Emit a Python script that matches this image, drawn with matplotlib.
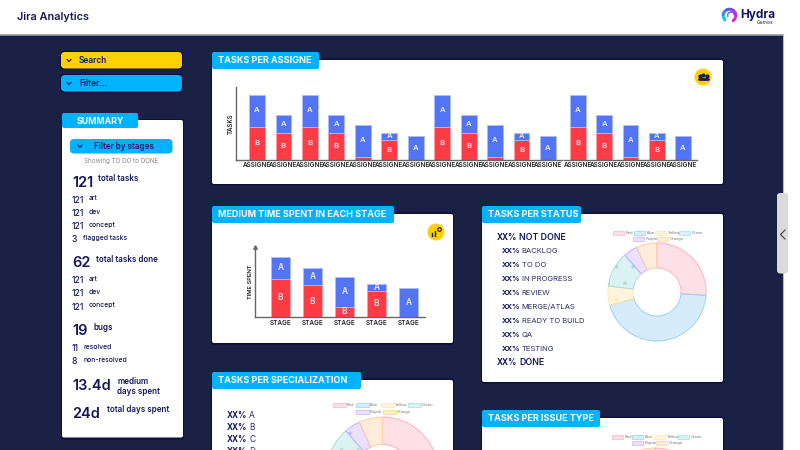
# -*- coding: utf-8 -*-
"""
Jira Analytics dashboard mock: cards are drawn on a full-figure pixel axes,
the charts sit on their own axes on top of it.
"""

import matplotlib
matplotlib.use('Agg')
import matplotlib.pyplot as plt
import matplotlib.patches as mpatches

plt.rcParams['font.family'] = ['Inter', 'DejaVu Sans']
plt.rcParams['hatch.linewidth'] = 0.2

#%% Data
assigne_labels_left = ['ASSIGNE'] * 12
assigne_a_left = [32, 18, 32, 18, 32, 7, 24, 32, 18, 32, 7, 24]
assigne_b_left = [33, 27, 33, 27, 3, 20, 0, 33, 27, 3, 20, 0]
assigne_labels_right = ['ASSIGNE'] * 5
assigne_a_right = [32, 18, 32, 7, 24]
assigne_b_right = [33, 27, 3, 20, 0]

stage_labels = ['STAGE'] * 5
stage_a = [22, 17, 30, 7, 29]
stage_b = [38, 32, 10, 26, 0]

pie_names = ['Red', 'Blue', 'Yellow', 'Green', 'Purple', 'Orange']
pie_values = [94, 160, 23, 42, 16.5, 24.5]
pie_fill = ['#FFE0E6', '#D7ECFB', '#FFF5DD', '#DBF2F2', '#EBE0FF', '#FFECD9']
pie_edge = ['#FFB1C1', '#9AD0F5', '#FFE6AA', '#A5DFDF', '#CCB2FF', '#FFCF9F']
pie_dots = ['', '', '.', '.', '.', '']

status_labels = ['BACKLOG', 'TO DO', 'IN PROGRESS', 'REVIEW', 'MERGE/ATLAS',
                 'READY TO BUILD', 'QA', 'TESTING']
spec_labels = ['A', 'B', 'C', 'D']

#%% Style
navy = '#1A2145'
ink = '#14185A'
sky = '#00B2FF'
gold = '#FFD100'
shadow = '#0C0E3C'
blue = '#5375F5'
red = '#FF3B45'

fig = plt.figure(figsize=(8, 4.5), dpi=100, facecolor='white')
bg = fig.add_axes([0, 0, 1, 1])
bg.set_xlim(0, 800)
bg.set_ylim(450, 0)
bg.axis('off')


def box(x0, y0, x1, y1, fc, ec='none', lw=0, rad=2.0, z=2):
    p = mpatches.FancyBboxPatch((x0 + rad, y0 + rad), x1 - x0 - 2 * rad, y1 - y0 - 2 * rad,
                                boxstyle='round,pad=%g,rounding_size=%g' % (rad, rad),
                                fc=fc, ec=ec, lw=lw, zorder=z)
    bg.add_patch(p)


def txt(x, y, s, size=5.5, weight='normal', color=ink, ha='left', z=6):
    bg.text(x, y, s, fontsize=size, fontweight=weight, color=color, ha=ha, va='center', zorder=z)


def card(x0, y0, x1, y1, tab_x1, title):
    box(x0 - 1, y0 - 1.5, x1 + 1, y1 + 1.5, shadow, z=2)
    box(x0, y0, x1, y1, 'white', z=3)
    box(x0, y0 - 8, tab_x1, y0 + 9, sky, z=4)
    txt(x0 + 6.5, y0 + 0.5, title, size=6.5, weight='bold', color='white')


def chevron(x, y, color=ink, s=2.0):
    bg.plot([x - s, x, x + s], [y - s * 0.55, y + s * 0.55, y - s * 0.55], color=color, lw=0.8, zorder=6)


def inset(x0, y0, x1, y1):
    ax = fig.add_axes([x0 / 800, 1 - y1 / 450, (x1 - x0) / 800, (y1 - y0) / 450])
    ax.patch.set_alpha(0)
    return ax


def stacked(ax, labels, a, b, xlim, ymax, size):
    x = list(range(len(labels)))
    bars_b = ax.bar(x, b, 0.6, color=red, edgecolor='#FF9CA3', lw=0.6)
    bars_a = ax.bar(x, a, 0.6, bottom=b, color=blue, edgecolor='#AEBDFB', lw=0.6)
    ax.bar_label(bars_b, labels=['B' if v > 5 else '' for v in b], label_type='center',
                 color='#FFE4E6', fontsize=size, fontweight='semibold')
    ax.bar_label(bars_a, labels=['A'] * len(a), label_type='center',
                 color='#E8EDFF', fontsize=size, fontweight='semibold')
    ax.set_xticks(x)
    ax.set_xticklabels(labels, fontsize=4.6, fontweight='semibold', color='#222222')
    ax.set_yticks([])
    ax.tick_params(axis='x', length=0, pad=2)
    ax.set_xlim(xlim)
    ax.set_ylim(0, ymax)
    for s in ['top', 'right']:
        ax.spines[s].set_visible(False)
    for s in ['left', 'bottom']:
        ax.spines[s].set_color('#666666')
        ax.spines[s].set_linewidth(1.0)


def donut(cx, cy, r, hole):
    ax = inset(cx - r, cy - r, cx + r, cy + r)
    ax.pie(pie_values, colors=pie_fill, startangle=90, counterclock=False, radius=1,
           wedgeprops=dict(width=1 - hole / r, edgecolor='none'))
    wedges, _ = ax.pie(pie_values, colors=['none'] * 6, startangle=90, counterclock=False, radius=1,
                       wedgeprops=dict(width=1 - hole / r, lw=0.7))
    for w, c, h in zip(wedges, pie_edge, pie_dots):
        w.set_edgecolor(c)
        w.set_hatch(h)
    ax.set_xlim(-1.02, 1.02)
    ax.set_ylim(-1.02, 1.02)


def pie_legend(box_x, y1, y2, box_w):
    # boxes of the two legend rows, text right after each box
    for i, (name, ec, fc) in enumerate(zip(pie_names, pie_edge, pie_fill)):
        y = y1 if i < 4 else y2
        bg.add_patch(mpatches.Rectangle((box_x[i], y - 1.8), box_w, 3.6, fc=fc, ec=ec, lw=0.5, zorder=5))
        txt(box_x[i] + box_w + 1.5, y, name, size=2.9, color='#777777')


def xx_row(x, y, label, gap, size=5.6, weight='medium', color='#2A2F68', xx_size=5.9):
    txt(x, y, 'XX%', size=xx_size, weight='bold')
    txt(x + gap, y, label, size=size, weight=weight, color=color)


#%% Page frame
bg.add_patch(mpatches.Rectangle((0, 35), 783, 415, fc=navy, ec='none', zorder=1))
bg.plot([0, 783], [34.7, 34.7], color='#9C9C9C', lw=1.2, zorder=2)
bg.plot([783.3, 783.3], [35, 450], color='#B8B8B8', lw=0.8, zorder=2)
box(777, 193, 788, 273.5, '#DADADA', rad=3, z=2)
bg.plot([785, 780.5, 785], [230, 234.5, 239], color='#444444', lw=0.8, zorder=3)
txt(17, 16.5, 'Jira Analytics', size=7.9, weight='semibold')

# logo
logo_cols = ['#17C3F2', '#2C8CF2', '#5A55EE', '#8A3CEB', '#B32BE0', '#D42BC8']
for i, c in enumerate(logo_cols):
    bg.add_patch(mpatches.Wedge((729.5, 15.5), 7.8, 125 + i * 50, 175 + i * 50, width=3, fc=c, ec='none', zorder=3))
    bg.add_patch(mpatches.Wedge((731, 15.5), 4.2, 150 + i * 35, 185 + i * 35, width=1.6, fc=c, ec='none', zorder=3))
txt(740.5, 15, 'Hydra', size=8.5, weight='bold')
txt(757, 22.3, 'Games', size=3.6, color='#333366')

#%% Sidebar
box(60, 51, 183, 69.5, shadow, rad=4)
box(61, 52, 182, 68.5, gold, rad=4, z=3)
chevron(69, 60.5)
txt(79, 60.5, 'Search', size=6, weight='semibold')
box(60, 74, 183, 92.5, shadow, rad=4)
box(61, 75, 182, 91.5, sky, rad=4, z=3)
chevron(69, 83.5)
txt(79, 83.5, 'Filter...', size=6, weight='semibold')

box(61, 119, 184, 439.5, shadow)
box(62, 120, 183, 437.5, 'white', z=3)
box(62, 113, 138, 128, sky, z=4)
txt(100, 121, 'SUMMARY', size=6.3, weight='bold', color='white', ha='center')
box(70, 139, 172.5, 153.5, sky, rad=4, z=4)
chevron(80, 146.3)
txt(94, 146.5, 'Filter by stages', size=5.8, weight='semibold')
txt(121.5, 161, 'Showing TO DO to DONE', size=4.5, color='#8A8A8A', ha='center')

big_rows = [(72, 183, '121', 98, 178.5, 'total tasks'),
            (72, 263, '62', 96, 259.5, 'total tasks done'),
            (72, 331, '19', 93, 327, 'bugs'),
            (72, 414, '24d', 107, 410, 'total days spent')]
for nx, ny, num, lx, ly, lab in big_rows:
    txt(nx, ny, num, size=10.5, weight='semibold')
    txt(lx, ly, lab, size=5.8, weight='semibold')
txt(72, 386, '13.4d', size=10.5, weight='semibold')
txt(117, 381, 'medium', size=5.8, weight='semibold')
txt(117, 391, 'days spent', size=5.8, weight='semibold')

small_rows = [(72, 200.5, '121', 89, 198.5, 'art'), (72, 213.5, '121', 89, 211.5, 'dev'),
              (72, 226.5, '121', 89, 224.5, 'concept'), (72, 239.5, '3', 83, 238, 'flagged tasks'),
              (72, 280.5, '121', 89, 279, 'art'), (72, 294, '121', 89, 292, 'dev'),
              (72, 307, '121', 89, 305.5, 'concept'), (72, 348.5, '11', 84, 347, 'resolved'),
              (72, 361.5, '8', 83, 360, 'non-resolved')]
for nx, ny, num, lx, ly, lab in small_rows:
    txt(nx, ny, num, size=6.2, weight='medium')
    txt(lx, ly, lab, size=4.9, weight='medium')

#%% Cards
card(212, 60, 723, 184, 319, 'TASKS PER ASSIGNE')
card(212, 214, 453, 343, 394, 'MEDIUM TIME SPENT IN EACH STAGE')
card(482, 214, 723, 382, 581, 'TASKS PER STATUS')
card(212, 380, 453, 456, 361, 'TASKS PER SPECIALIZATION')
card(482, 418, 723, 456, 600, 'TASKS PER ISSUE TYPE')

# round yellow icons
bg.add_patch(mpatches.Circle((703, 77), 8.5, fc=gold, ec='none', zorder=5))
bg.plot([699.5, 703, 706.5], [75.5, 74.5, 75.5], 'o', ms=2, color=ink, zorder=6)
bg.plot([698.5, 707.5], [79, 79], color=ink, lw=2, solid_capstyle='round', zorder=6)
bg.add_patch(mpatches.Circle((436, 232), 8.5, fc=gold, ec='none', zorder=5))
bg.plot([432, 432], [233, 236], color=ink, lw=1, zorder=6)
bg.plot([435, 435], [231, 236], color=ink, lw=1, zorder=6)
bg.add_patch(mpatches.Circle((439.5, 229.5), 1.8, fc='none', ec=ink, lw=0.8, zorder=6))

#%% Bar charts
ax1 = inset(236, 87, 562, 159.5)
stacked(ax1, assigne_labels_left, assigne_a_left, assigne_b_left, (-0.794, 11.53), 72.5, 5.6)
ax1.set_ylabel('TASKS', fontsize=4.4, fontweight='semibold', color='#222222', labelpad=1.5)
ax2 = inset(564, 87, 697, 159.5)
stacked(ax2, assigne_labels_right, assigne_a_right, assigne_b_right, (-0.533, 4.53), 72.5, 5.6)
ax2.spines['left'].set_visible(False)

ax3 = inset(255, 247, 425, 317)
stacked(ax3, stage_labels, stage_a, stage_b, (-0.797, 4.516), 70, 6)
ax3.set_ylabel('TIME SPENT', fontsize=4.2, fontweight='semibold', color='#222222', labelpad=1.5)
ax3.plot(0, 1, '^', ms=2.5, color='#666666', transform=ax3.transAxes, clip_on=False)

#%% Status card
xx_row(497, 238, 'NOT DONE', 22, size=6.3, weight='semibold', color=ink)
for i, lab in enumerate(status_labels):
    xx_row(502, 251 + i * 13.95, lab, 19.5, size=5.5, weight='normal', xx_size=5.4)
xx_row(497, 362.5, 'DONE', 22, size=6.3, weight='semibold', color=ink)
pie_legend([613, 634, 655, 679, 633, 657], 233, 239, 11)
donut(657, 292, 50, 24.5)

#%% Specialization card
for i, lab in enumerate(spec_labels):
    xx_row(227, 415 + i * 12, lab, 22, size=6, weight='normal')
pie_legend([333, 356, 381, 408, 356, 383], 405, 412, 12.5)
donut(382.5, 473, 57, 29)

#%% Issue type card
pie_legend([612, 632, 654, 678, 632, 656], 437, 443, 11)
donut(655, 497, 50, 24.5)

fig.savefig('out.png', dpi=100)
